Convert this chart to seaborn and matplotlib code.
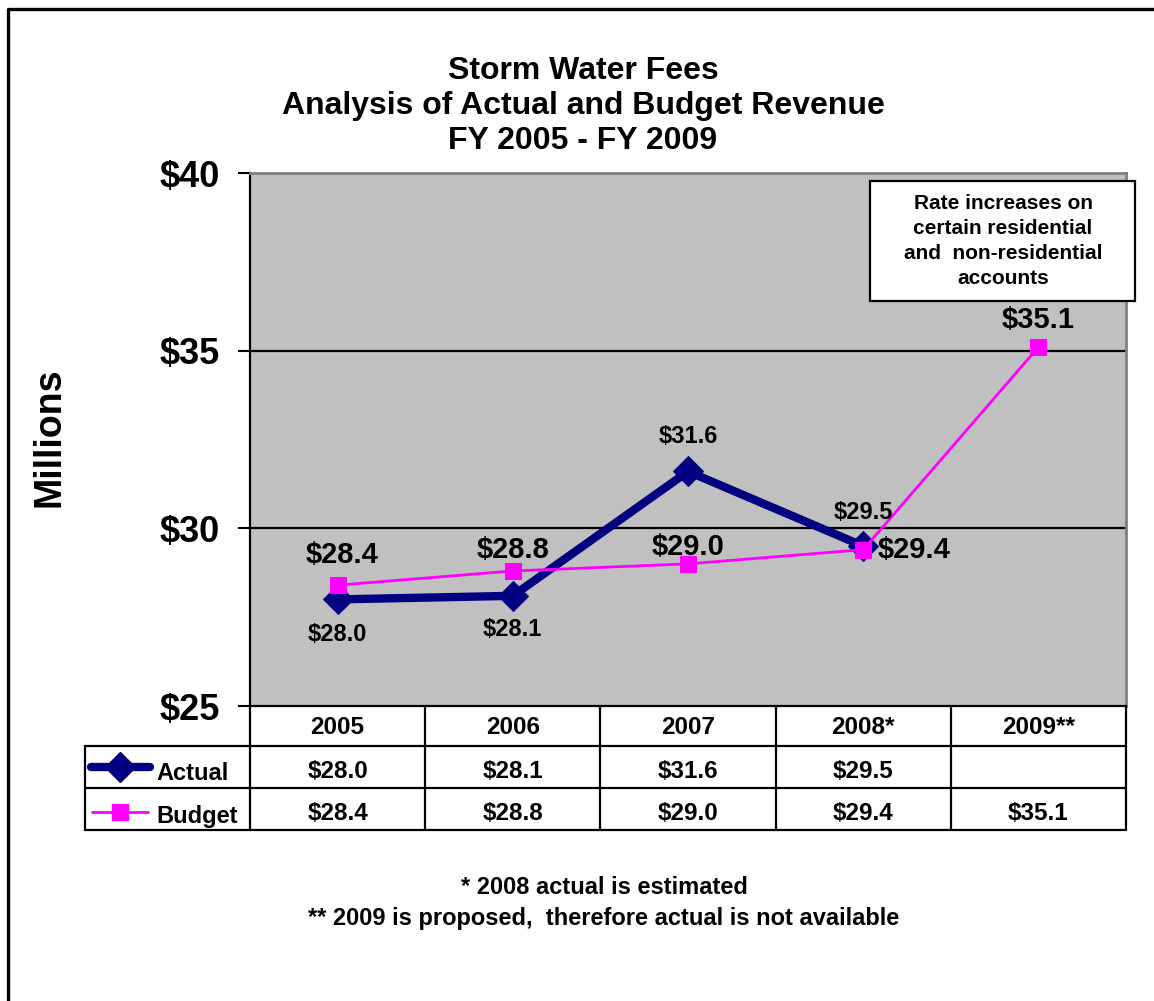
import numpy as np
import pandas as pd
import matplotlib.pyplot as plt
import seaborn as sns
from matplotlib.patches import Rectangle

# data
years = ['2005', '2006', '2007', '2008*', '2009**']
actual = [28.0, 28.1, 31.6, 29.5, np.nan]
budget = [28.4, 28.8, 29.0, 29.4, 35.1]
y_ticks = [25, 30, 35, 40]
title = 'Storm Water Fees\nAnalysis of Actual and Budget Revenue\nFY 2005 - FY 2009'
note = 'Rate increases on\ncertain residential\nand  non-residential\naccounts'
footnotes = ['* 2008 actual is estimated',
             '** 2009 is proposed,  therefore actual is not available']

NAVY = '#000080'
MAGENTA = '#FF00FF'

sns.set_style('white')
plt.rcParams['font.family'] = ['Liberation Sans', 'DejaVu Sans']
plt.rcParams['font.weight'] = 'bold'
plt.rcParams['text.color'] = 'black'
plt.rcParams['ytick.color'] = 'black'
plt.rcParams['ytick.labelcolor'] = 'black'

W, H = 1154, 1001
fig = plt.figure(figsize=(W / 100, H / 100), dpi=100)

# plot area (pixels)
L, R, T, B = 250, 1126, 173, 706
ax = fig.add_axes([L / W, 1 - B / H, (R - L) / W, (B - T) / H])
ax.set_facecolor('#C0C0C0')

df = pd.DataFrame({'pos': range(len(years)), 'Actual': actual, 'Budget': budget})

for v in y_ticks[1:-1]:
    ax.axhline(v, color='black', lw=1.6, zorder=1)

sns.lineplot(data=df, x='pos', y='Actual', ax=ax, color=NAVY, linewidth=6,
             marker='D', markersize=15, markeredgecolor=NAVY, zorder=3)
sns.lineplot(data=df, x='pos', y='Budget', ax=ax, color=MAGENTA, linewidth=2,
             marker='s', markersize=12, markeredgecolor=MAGENTA, zorder=4)

ax.set_xlim(-0.5, len(years) - 0.5)
ax.set_ylim(y_ticks[0], y_ticks[-1])
ax.set_yticks(y_ticks)
ax.set_yticklabels([f'${v}' for v in y_ticks], fontsize=26, fontweight='bold', color='black')
ax.set_xticks([])
ax.set_xlabel('')
ax.set_ylabel('')
ax.tick_params(axis='y', direction='out', length=9, width=1.5, color='black', pad=13, left=True)
for s in ['left', 'bottom']:
    ax.spines[s].set_color('black')
    ax.spines[s].set_linewidth(1.6)
for s in ['top', 'right']:
    ax.spines[s].set_color('#808080')
    ax.spines[s].set_linewidth(2)

# data labels (offsets in px)
px = 0.72
actual_off = [(0, -35), (0, -34), (0, 35), (0, 34)]
for i, (v, off) in enumerate(zip(actual, actual_off)):
    ax.annotate(f'${v:.1f}', (i, v), xytext=(off[0] * px, off[1] * px),
                textcoords='offset points', ha='center', va='center',
                fontsize=17, fontweight='bold', zorder=6)
budget_off = [(4, 30), (0, 21), (0, 17), (14, 0), (0, 27)]
budget_ha = ['center', 'center', 'center', 'left', 'center']
for i, (v, off, ha) in enumerate(zip(budget, budget_off, budget_ha)):
    ax.annotate(f'${v:.1f}', (i, v), xytext=(off[0] * px, off[1] * px),
                textcoords='offset points', ha=ha, va='center',
                fontsize=21, fontweight='bold', zorder=6)

# titles
fig.text(583 / W, 1 - 106 / H, title, ha='center', va='center', fontsize=23,
         fontweight='bold', linespacing=1.22)
fig.text(50 / W, 1 - 437 / H, 'Millions', rotation=90, ha='center', va='center',
         fontsize=27, fontweight='bold')
for k, txt in enumerate(footnotes):
    fig.text(604 / W, 1 - (887 + 31 * k) / H, txt, ha='center', va='center',
             fontsize=17, fontweight='bold')

# overlay in pixel coordinates: border, data table, note box
ov = fig.add_axes([0, 0, 1, 1])
ov.set_xlim(0, W)
ov.set_ylim(H, 0)
ov.axis('off')
ov.patch.set_alpha(0)

ov.plot([8, 8, W + 5], [H + 5, 9, 9], color='black', lw=2.4, clip_on=False)

col_w = (R - L) / len(years)
edges = [L + i * col_w for i in range(len(years) + 1)]
rows = [706, 746, 788, 830]
LX = 85
tlw = 1.6
for y in rows[1:]:
    ov.plot([LX, R], [y, y], color='black', lw=tlw)
ov.plot([LX, LX], [rows[1], rows[3]], color='black', lw=tlw)
for x in edges:
    ov.plot([x, x], [rows[0], rows[3]], color='black', lw=tlw)

row_c = [(rows[j] + rows[j + 1]) / 2 for j in range(3)]
text_c = [row_c[0] + 2, row_c[1] + 4, row_c[2] + 4]
for i, yr in enumerate(years):
    xc = (edges[i] + edges[i + 1]) / 2
    ov.text(xc, text_c[0], yr, ha='center', va='center', fontsize=17.5, fontweight='bold')
    if not np.isnan(actual[i]):
        ov.text(xc, text_c[1], f'${actual[i]:.1f}', ha='center', va='center',
                fontsize=17.5, fontweight='bold')
    ov.text(xc, text_c[2], f'${budget[i]:.1f}', ha='center', va='center',
            fontsize=17.5, fontweight='bold')

# legend keys
ov.plot([91, 150], [row_c[1]] * 2, color=NAVY, lw=6, solid_capstyle='round')
ov.plot([120], [row_c[1]], marker='D', markersize=15, color=NAVY)
ov.plot([92, 148], [row_c[2] + 3] * 2, color=MAGENTA, lw=2)
ov.plot([120], [row_c[2] + 3], marker='s', markersize=12, color=MAGENTA)
ov.text(156, row_c[1] + 7, 'Actual', ha='left', va='center', fontsize=17, fontweight='bold')
ov.text(156, row_c[2] + 7, 'Budget', ha='left', va='center', fontsize=17, fontweight='bold')

# note box
ov.add_patch(Rectangle((870, 181), 265, 120, facecolor='white', edgecolor='black', lw=1.6))
ov.text(1003, 241, note, ha='center', va='center', fontsize=15, fontweight='bold',
        linespacing=1.38)

fig.savefig('out.png', dpi=100)
